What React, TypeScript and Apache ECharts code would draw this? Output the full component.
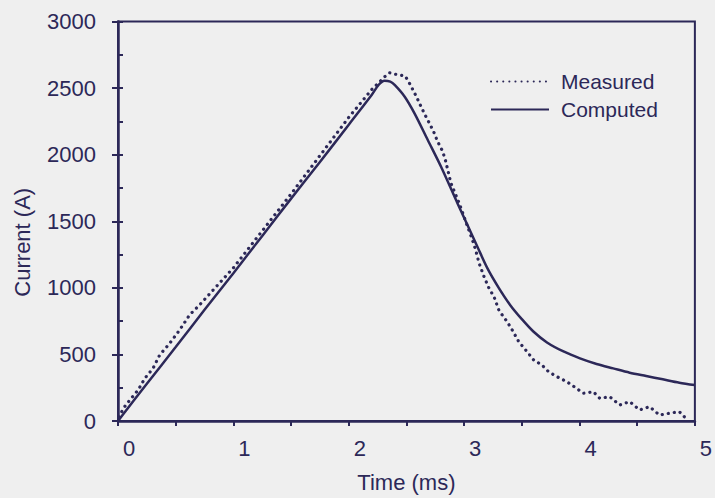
import React, { useEffect, useRef } from "react";
import * as echarts from "echarts";

// ---- data ----
const seriesNames = ["Measured", "Computed"];

const computedTime = [
  0, 0.25, 0.5, 0.75, 1.0, 1.25, 1.5, 1.75, 2.0, 2.2, 2.26, 2.31, 2.36, 2.4,
  2.485, 2.57, 2.685, 2.8, 2.943, 3.115, 3.2, 3.3, 3.4, 3.5, 3.6, 3.718,
  3.861, 4.004, 4.148, 4.292, 4.435, 4.578, 4.722, 4.865, 5.0,
];
const computedCurrent = [
  0, 280, 555, 835, 1110, 1390, 1670, 1945, 2225, 2450, 2525, 2555, 2548, 2522,
  2435, 2310, 2110, 1909, 1634, 1309, 1150, 1000, 870, 765, 672, 590,
  522, 470, 428, 395, 363, 338, 313, 288, 270,
];

const measuredTime = [
  0.01, 0.046, 0.103, 0.175, 0.232, 0.304, 0.361, 0.448, 0.534, 0.62, 0.706,
  1.0, 1.5, 2.0, 2.2, 2.283, 2.312, 2.355, 2.4, 2.44, 2.49, 2.527, 2.565,
  2.593, 2.627, 2.662, 2.7, 2.736, 2.771, 2.808, 2.834, 2.886, 2.958, 3.03,
  3.072, 3.1, 3.13, 3.173, 3.216, 3.259, 3.302, 3.373, 3.417, 3.474, 3.546,
  3.603, 3.675, 3.732, 3.804, 3.89, 3.961, 4.033, 4.12, 4.176, 4.262, 4.349,
  4.435, 4.521, 4.607, 4.693, 4.779, 4.865, 4.908,
];
const measuredCurrent = [
  30, 95, 158, 233, 320, 396, 495, 583, 683, 796, 871,
  1150, 1705, 2280, 2490, 2560, 2585, 2615, 2605, 2598, 2590, 2535, 2473,
  2423, 2360, 2297, 2235, 2172, 2097, 2035, 1972, 1785, 1634, 1459,
  1359, 1284, 1184, 1083, 996, 933, 830, 745, 683, 595, 520,
  458, 420, 370, 333, 295, 253, 208, 220, 170, 182, 120,
  145, 83, 107, 45, 58, 70, 32,
];

const xTicks = [0, 1, 2, 3, 4, 5];
const yTicks = [0, 500, 1000, 1500, 2000, 2500, 3000];

const xTitle = "Time (ms)";
const yTitle = "Current (A)";

const INK = "#2c2858";
const BG = "#efefef";
const FONT = "'Liberation Sans', Arial, Helvetica, sans-serif";

export default function App() {
  const ref = useRef<HTMLDivElement>(null);

  useEffect(() => {
    if (!ref.current) return;
    const chart = echarts.init(ref.current, null, { renderer: "svg" });

    const computedData = computedTime.map((t, i) => [t, computedCurrent[i]]);
    const measuredData = measuredTime.map((t, i) => [t, measuredCurrent[i]]);

    const xMin = xTicks[0];
    const xMax = xTicks[xTicks.length - 1];
    const yMin = yTicks[0];
    const yMax = yTicks[yTicks.length - 1];
    const yStep = yTicks[1] - yTicks[0];

    chart.setOption({
      animation: false,
      backgroundColor: BG,
      textStyle: { fontFamily: FONT, color: INK },
      grid: {
        left: 118,
        right: 16,
        top: 21.5,
        bottom: 77,
        containLabel: false,
        show: true,
        borderColor: INK,
        borderWidth: 2,
        backgroundColor: "transparent",
      },
      legend: {
        data: seriesNames,
        orient: "vertical",
        left: 490,
        top: 71,
        itemWidth: 58,
        itemHeight: 10,
        itemGap: 7,
        padding: 0,
        itemStyle: { color: "transparent", borderWidth: 0, opacity: 0 },
        textStyle: {
          fontFamily: FONT,
          fontSize: 21,
          color: INK,
          padding: [0, 0, 0, 7],
        },
      },
      xAxis: {
        type: "value",
        min: xMin,
        max: xMax,
        interval: 0.5,
        name: xTitle,
        nameLocation: "middle",
        nameGap: 50,
        nameTextStyle: { fontFamily: FONT, fontSize: 22, color: INK },
        axisLine: { show: true, onZero: false, lineStyle: { color: INK, width: 2.5 } },
        axisTick: { show: true, inside: false, length: 5, lineStyle: { color: INK, width: 2 } },
        axisLabel: {
          fontFamily: FONT,
          fontSize: 22,
          color: INK,
          margin: 16,
          padding: [0, 0, 0, 22],
          formatter: (v: number) => (xTicks.includes(v) ? String(v) : ""),
        },
        splitLine: { show: false },
      },
      yAxis: [
        {
          type: "value",
          min: yMin,
          max: yMax,
          interval: yStep,
          name: yTitle,
          nameLocation: "middle",
          nameGap: 85,
          nameTextStyle: {
            fontFamily: FONT,
            fontSize: 22,
            color: INK,
            padding: [0, 42, 0, 0],
          },
          axisLine: { show: true, onZero: false, lineStyle: { color: INK, width: 2.5 } },
          axisTick: { show: true, inside: false, length: 6, lineStyle: { color: INK, width: 2 } },
          axisLabel: {
            fontFamily: FONT,
            fontSize: 22,
            color: INK,
            margin: 22,
            formatter: (v: number) => String(v),
          },
          splitLine: { show: false },
        },
        {
          type: "value",
          min: yMin,
          max: yMax,
          interval: yStep / 2,
          position: "left",
          offset: 0,
          axisLine: { show: false },
          axisTick: { show: true, inside: true, length: 5, lineStyle: { color: INK, width: 2 } },
          axisLabel: { show: false },
          splitLine: { show: false },
        },
      ],
      series: [
        {
          name: seriesNames[0],
          type: "line",
          data: measuredData,
          yAxisIndex: 0,
          symbol: "none",
          smooth: false,
          lineStyle: { color: INK, width: 3.2, type: [0.1, 6], cap: "round" },
          itemStyle: { color: INK },
          z: 3,
        },
        {
          name: seriesNames[1],
          type: "line",
          data: computedData,
          yAxisIndex: 0,
          symbol: "none",
          smooth: 0.3,
          lineStyle: { color: INK, width: 2.5, type: "solid" },
          itemStyle: { color: INK },
          z: 2,
        },
      ],
    });

    return () => chart.dispose();
  }, []);

  return (
    <div
      ref={ref}
      style={{ position: "fixed", left: 0, top: 0, width: 715, height: 498 }}
    />
  );
}
